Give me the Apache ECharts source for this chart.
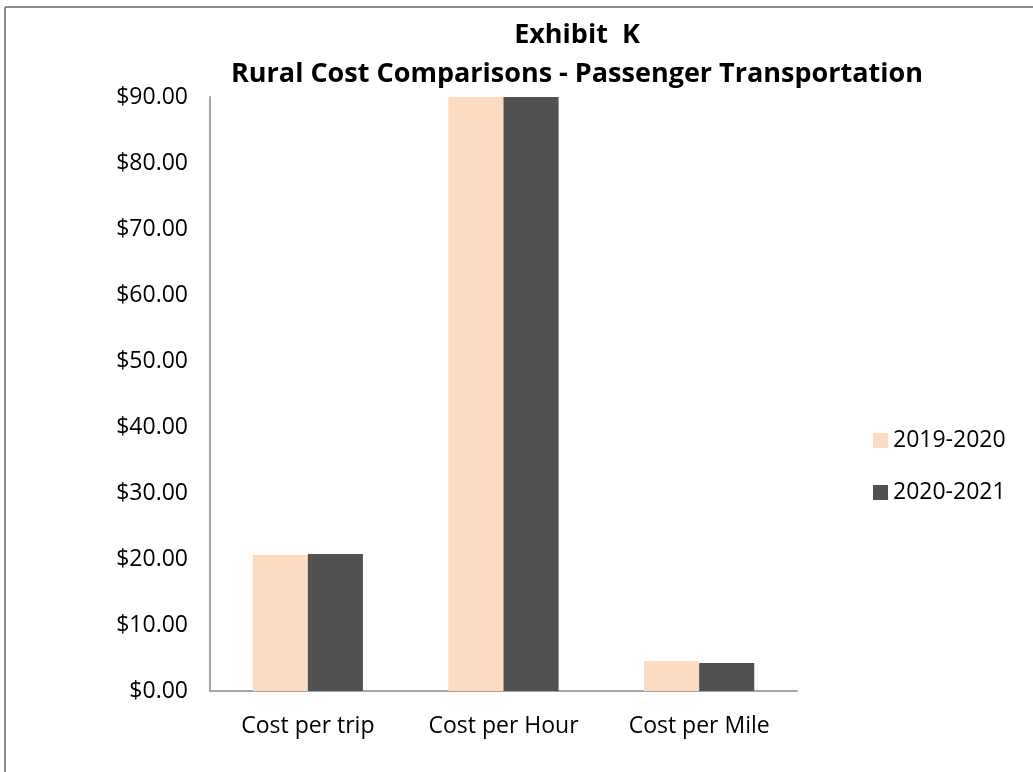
<!DOCTYPE html>
<html><head><meta charset="utf-8">
<script src="https://cdn.jsdelivr.net/npm/echarts@6/dist/echarts.min.js"></script>
<style>html,body{margin:0;padding:0;background:#fff}#c{width:1033px;height:772px}</style>
</head><body><div id="c"></div>
<script>
var categories = ['Cost per trip', 'Cost per Hour', 'Cost per Mile'];
var series2019 = [20.6, 92.5, 4.55];
var series2020 = [20.75, 93.0, 4.25];
var seriesNames = ['2019-2020', '2020-2021'];
var yTicks = {min: 0, max: 90, interval: 10};

var font = 'Open Sans';
var chart = echarts.init(document.getElementById('c'));
chart.setOption({
  backgroundColor: '#fff',
  animation: false,
  title: {
    text: 'Exhibit  K\nRural Cost Comparisons - Passenger Transportation',
    left: 572, top: 11, textAlign: 'center',
    textStyle: {fontFamily: font, fontWeight: 'bold', fontSize: 27, lineHeight: 39, color: '#000'}
  },
  legend: {
    orient: 'vertical', left: 868, top: 424, itemGap: 29,
    itemWidth: 15, itemHeight: 15, icon: 'rect',
    textStyle: {fontFamily: font, fontSize: 23, color: '#000'},
    data: seriesNames
  },
  grid: {left: 210, right: 236, top: 97, bottom: 81, containLabel: false},
  xAxis: {type: 'category', data: categories,
     axisLine: {show: true, lineStyle: {color: '#a6a6a6', width: 2}}, axisTick: {show: false},
     axisLabel: {interval: 0, fontFamily: font, fontSize: 23, color: '#000', margin: 24}},
  yAxis: {type: 'value', min: yTicks.min, max: yTicks.max, interval: yTicks.interval,
     axisLine: {show: true, lineStyle: {color: '#a6a6a6', width: 2}},
     axisTick: {show: false}, splitLine: {show: false},
     axisLabel: {fontFamily: font, fontSize: 23, color: '#000', margin: 22,
       formatter: function (v) { return '$' + v.toFixed(2); }}},
  series: [
    {name: seriesNames[0], type: 'bar', data: series2019,
     barGap: '0%', barCategoryGap: '43.7%', itemStyle: {color: '#FDDBC0'}, clip: true},
    {name: seriesNames[1], type: 'bar', data: series2020,
     barGap: '0%', barCategoryGap: '43.7%', itemStyle: {color: '#515151'}, clip: true}
  ],
  graphic: [
    {type: 'line', shape: {x1: 5, y1: 7, x2: 1033, y2: 7}, style: {stroke: '#8c8c8c', lineWidth: 2}},
    {type: 'line', shape: {x1: 5, y1: 7, x2: 5, y2: 772}, style: {stroke: '#8c8c8c', lineWidth: 2}}
  ]
});
</script></body></html>
